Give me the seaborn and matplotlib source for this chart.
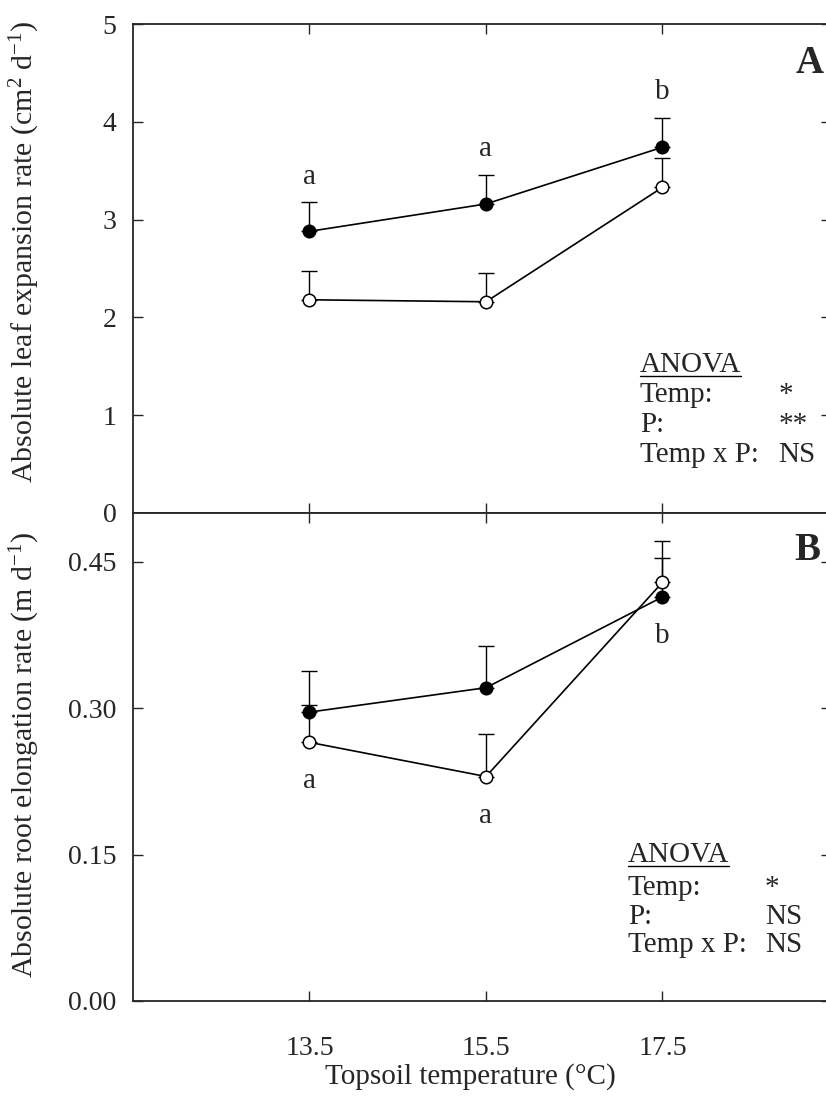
import numpy as np
import pandas as pd
import matplotlib
matplotlib.use("Agg")
import matplotlib.pyplot as plt
from matplotlib.lines import Line2D
import seaborn as sns

# --- data -------------------------------------------------------------
temps = [13.5, 15.5, 17.5]
temp_ticks = ["13.5", "15.5", "17.5"]

# leaf expansion rate (cm2 d-1), mean and upper SE
leaf_closed = [2.88, 3.16, 3.74]
leaf_closed_se = [0.30, 0.30, 0.30]
leaf_open = [2.18, 2.16, 3.33]
leaf_open_se = [0.29, 0.29, 0.30]
leaf_letters = ["a", "a", "b"]

# root elongation rate (m d-1)
root_closed = [0.296, 0.321, 0.414]
root_closed_se = [0.042, 0.043, 0.040]
root_open = [0.265, 0.230, 0.429]
root_open_se = [0.038, 0.044, 0.042]
root_letters = ["a", "a", "b"]

leaf_yticks = [0, 1, 2, 3, 4, 5]
leaf_yticklabels = ["0", "1", "2", "3", "4", "5"]
root_yticks = [0.0, 0.15, 0.30, 0.45]
root_yticklabels = ["0.00", "0.15", "0.30", "0.45"]

anova_rows = ["Temp:", "P:", "Temp x P:"]
leaf_anova = ["*", "**", "NS"]
root_anova = ["*", "NS", "NS"]

# --- style ------------------------------------------------------------
sns.set_style("ticks")
plt.rcParams["font.family"] = ["Liberation Serif", "DejaVu Serif"]
plt.rcParams["mathtext.fontset"] = "custom"
plt.rcParams["mathtext.rm"] = "Liberation Serif"
plt.rcParams["mathtext.it"] = "Liberation Serif:italic"
plt.rcParams["mathtext.bf"] = "Liberation Serif:bold"

W, H = 826, 1101
fig = plt.figure(figsize=(W / 100, H / 100), dpi=100)
fig.patch.set_facecolor("white")

left_px, right_px = 133, 831
axA = fig.add_axes([left_px / W, 1 - 513 / H, (right_px - left_px) / W, (513 - 24) / H])
axB = fig.add_axes([left_px / W, 1 - 1001 / H, (right_px - left_px) / W, (1001 - 513) / H])

TICK_FS = 20
TEXT_FS = 21
YLAB_FS = 21.5


def draw_series(ax, y, se, filled):
    df = pd.DataFrame({"t": temps, "v": y})
    ax.errorbar(temps, y, yerr=[np.zeros(len(se)), se], fmt="none",
                ecolor="black", elinewidth=1.0, capsize=6, capthick=1.0,
                zorder=1.5)
    sns.lineplot(data=df, x="t", y="v", ax=ax, color="black", linewidth=1.2,
                 marker="o", markersize=9,
                 markerfacecolor="black" if filled else "white",
                 markeredgecolor="black", markeredgewidth=1.1, zorder=3)


def style_axes(ax, ylim, yticks, yticklabels):
    ax.set_xlim(11.5, 11.5 + (right_px - left_px) / 88.25)
    ax.set_ylim(*ylim)
    ax.set_xticks(temps)
    ax.set_yticks(yticks)
    ax.set_yticklabels(yticklabels, fontsize=TICK_FS)
    ax.tick_params(direction="in", length=7, width=1.0, top=True, bottom=True,
                   left=True, right=True, pad=12)
    for s in ax.spines.values():
        s.set_linewidth(1.3)
        s.set_visible(True)
    ax.set_xlabel("")
    ax.set_ylabel("")
    ax.set_facecolor("white")


# --- panel A ----------------------------------------------------------
draw_series(axA, leaf_open, leaf_open_se, filled=False)
draw_series(axA, leaf_closed, leaf_closed_se, filled=True)
style_axes(axA, (0, 5), leaf_yticks, leaf_yticklabels)
axA.set_xticklabels([])
for t, v, e, s in zip(temps, leaf_closed, leaf_closed_se, leaf_letters):
    axA.text(t, v + e + 0.26, s, ha="center", va="center", fontsize=TEXT_FS)
axA.text(0.97, 0.92, "A", transform=axA.transAxes, ha="center", va="center",
         fontsize=28, fontweight="bold")
axA.set_ylabel("Absolute leaf expansion rate (cm$^{2}$ d$^{-1}$)",
               fontsize=YLAB_FS)

# --- panel B ----------------------------------------------------------
draw_series(axB, root_open, root_open_se, filled=False)
draw_series(axB, root_closed, root_closed_se, filled=True)
style_axes(axB, (0, 0.5), root_yticks, root_yticklabels)
axB.set_xticklabels(temp_ticks, fontsize=TICK_FS)
axB.tick_params(axis="x", pad=25)
lower = [min(a, b) for a, b in zip(root_closed, root_open)]
lower[2] = root_closed[2]
for t, v, s in zip(temps, lower, root_letters):
    axB.text(t, v - 0.04, s, ha="center", va="center", fontsize=TEXT_FS)
axB.text(0.966, 0.924, "B", transform=axB.transAxes, ha="center", va="center",
         fontsize=28, fontweight="bold")
axB.set_ylabel("Absolute root elongation rate (m d$^{-1}$)",
               fontsize=YLAB_FS)

fig.text(470 / W, 1 - 1077 / H, "Topsoil temperature (\u00b0C)", ha="center",
         va="center", fontsize=TEXT_FS)

# place y labels (coordinate is the right-hand edge of the rotated label)
lab_x = -(133 - 42) / (right_px - left_px)
axA.yaxis.set_label_coords(lab_x, 0.535)
axB.yaxis.set_label_coords(lab_x, 0.505)


# --- ANOVA summaries --------------------------------------------------
def anova_block(ax, x0, x1, ys, values):
    title = ax.text(x0, ys[0], "ANOVA", transform=ax.transAxes, ha="left",
                    va="center", fontsize=TEXT_FS)
    for y, lab, val in zip(ys[1:], anova_rows, values):
        ax.text(x0, y, lab, transform=ax.transAxes, ha="left", va="center",
                fontsize=TEXT_FS)
        ax.text(x1, y, val, transform=ax.transAxes, ha="left", va="center",
                fontsize=TEXT_FS)
    return title


tA = anova_block(axA, 0.726, 0.925, [0.303, 0.241, 0.180, 0.119], leaf_anova)
tB = anova_block(axB, 0.709, 0.905, [0.299, 0.232, 0.172, 0.115], root_anova)

fig.canvas.draw()
renderer = fig.canvas.get_renderer()
for t in (tA, tB):
    bb = t.get_window_extent(renderer=renderer)
    inv = fig.transFigure.inverted()
    (xa, ya), (xb, yb) = inv.transform([(bb.x0, bb.y0), (bb.x1, bb.y0)])
    fig.add_artist(Line2D([xa, xb], [ya + 2 / H, ya + 2 / H],
                          transform=fig.transFigure, color="black", lw=1.0))

fig.savefig("out.png", dpi=100, facecolor="white")
